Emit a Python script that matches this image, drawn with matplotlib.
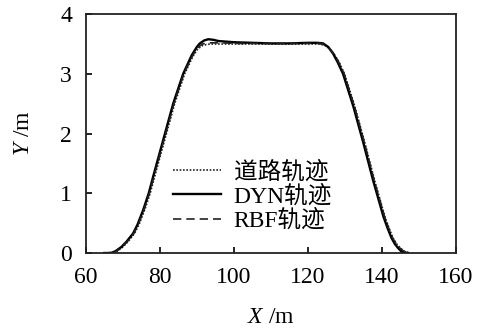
import numpy as np
import matplotlib.pyplot as plt

plt.rcParams['font.family'] = ['Liberation Serif', 'Noto Sans CJK SC']
plt.rcParams['mathtext.fontset'] = 'custom'
plt.rcParams['mathtext.rm'] = 'Liberation Serif'
plt.rcParams['mathtext.it'] = 'Liberation Serif:italic'

# trajectories
dyn_x = [65, 66, 67, 68, 69.6, 71, 72.8, 74, 75.5, 77, 78.2, 80.9, 83.6, 86.3, 88.6, 90, 90.8,
         92, 93.1, 94.5, 95.8, 100, 105, 110, 115, 120, 122.5, 124.1, 125.5, 126.8, 128, 129.5,
         132.3, 135, 137.6, 140.4, 141.5, 142.6, 143.5, 144.4, 145.2, 145.8, 147]
dyn_y = [0, 0, 0.005, 0.03, 0.1, 0.19, 0.33, 0.48, 0.72, 1.0, 1.28, 1.89, 2.5, 3.0, 3.31, 3.45, 3.51,
         3.56, 3.58, 3.57, 3.55, 3.53, 3.52, 3.51, 3.51, 3.52, 3.52, 3.51, 3.45, 3.34, 3.2, 3.0,
         2.45, 1.84, 1.22, 0.61, 0.42, 0.25, 0.15, 0.08, 0.03, 0, 0]

road_x = [67.4, 68.5, 70.0, 71.4, 73.2, 74.4, 75.9, 77.4, 78.6, 81.3, 84.0, 86.7, 88.9, 90.3, 91.7,
          93.5, 97, 100, 110, 120, 123, 124.5, 125.9, 127.2, 128.4, 129.9, 132.7, 135.4, 138.0,
          140.8, 141.9, 143.0, 144.0, 145.0, 146.0, 147.6]
road_y = [0, 0.03, 0.1, 0.19, 0.33, 0.48, 0.72, 1.0, 1.28, 1.89, 2.5, 3.0, 3.29, 3.42, 3.48,
          3.5, 3.5, 3.5, 3.5, 3.5, 3.5, 3.48, 3.42, 3.32, 3.2, 3.0, 2.45, 1.84, 1.22,
          0.61, 0.42, 0.25, 0.15, 0.08, 0.03, 0]

rbf_x = [67.2, 68.3, 69.8, 71.2, 73.0, 74.2, 75.7, 77.2, 78.4, 81.1, 83.8, 86.5, 88.8, 90.2, 91.5,
         93.3, 97, 100, 110, 120, 123, 124.4, 125.8, 127.1, 128.3, 129.8, 132.6, 135.3, 137.9,
         140.7, 141.8, 142.9, 143.9, 144.9, 145.9, 147.3]
rbf_y = [0, 0.03, 0.1, 0.19, 0.33, 0.48, 0.72, 1.0, 1.28, 1.89, 2.5, 3.0, 3.3, 3.44, 3.5,
         3.52, 3.52, 3.51, 3.51, 3.51, 3.51, 3.49, 3.43, 3.33, 3.2, 3.0, 2.45, 1.84, 1.22,
         0.61, 0.42, 0.25, 0.15, 0.08, 0.03, 0]

fig = plt.figure(figsize=(4.82, 3.29), dpi=100)
ax = fig.add_axes([0.178, 0.231, 0.768, 0.726])

ax.plot(road_x, road_y, color='#222222', linestyle=(0, (1, 1)), linewidth=1.2, label='道路轨迹')
ax.plot(dyn_x, dyn_y, color='black', linestyle='-', linewidth=1.7, label='DYN轨迹')
ax.plot(rbf_x, rbf_y, color='#222222', linestyle=(0, (5, 3)), linewidth=1.2, label='RBF轨迹')

ax.set_xlim(60, 160)
ax.set_ylim(0, 4)
ax.set_xticks([60, 80, 100, 120, 140, 160])
ax.set_yticks([0, 1, 2, 3, 4])
ax.tick_params(direction='in', length=4, width=1.2, labelsize=17, top=False, right=False, pad=10)
for s in ax.spines.values():
    s.set_linewidth(1.3)
    s.set_color('#222222')

ax.set_xlabel('$\\mathit{X}$ /m', fontsize=17, labelpad=14)
ax.set_ylabel('$\\mathit{Y}$ /m', fontsize=17, labelpad=19)

ax.legend(loc='lower left', bbox_to_anchor=(0.211, 0.049), frameon=False, fontsize=17,
          handlelength=2.0, handletextpad=0.55, labelspacing=0.08, borderaxespad=0)

plt.savefig('out.png', dpi=100)
